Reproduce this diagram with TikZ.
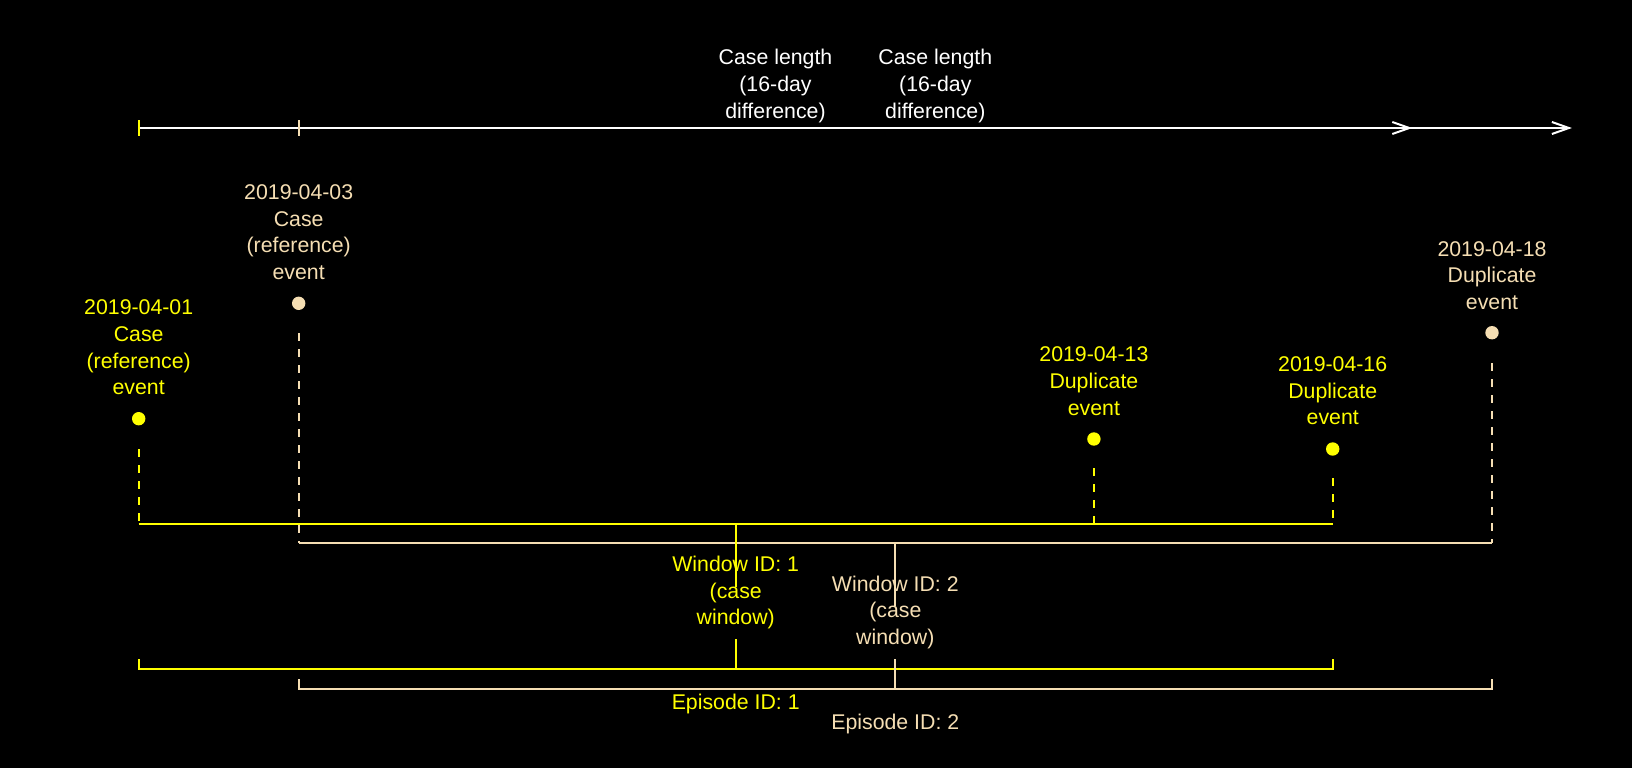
\documentclass[tikz,border=0pt]{standalone}
\usepackage{fontspec}
\setmainfont{Liberation Sans}
\usetikzlibrary{arrows.meta,calc}
\definecolor{ylw}{HTML}{FFFF00}
\definecolor{wht}{HTML}{F5DEB3}
\newcommand\ls{\rule[-5.65pt]{0pt}{26.7pt}}
\begin{document}
\begin{tikzpicture}[x=1pt,y=-1pt,
  lbl/.style={align=center,inner sep=0pt,font=\fontsize{21.3}{26.7}\selectfont},
  evdot/.style={circle,fill,inner sep=0pt,minimum size=13.4pt},
  ln/.style={line width=2pt},
  dsh/.style={line width=2pt,dash pattern=on 8pt off 8pt},
  arr/.style={line width=2pt,white,-{Straight Barb[length=17pt,width=12pt]}}]
\fill[black] (0,0) rectangle (1632,768);
\useasboundingbox (0,0) rectangle (1632,768);

% time axis
\coordinate (s1) at (138.7,128);
\coordinate (s3) at (298.7,128);
\coordinate (f17) at (1412.3,128);
\coordinate (f19) at (1571.9,128);
\draw[arr] (s1) -- (f17);
\draw[arr] (s3) -- (f19);
\draw[ln,ylw] ([yshift=8pt]s1) -- ([yshift=-8pt]s1);
\draw[ln,wht] ([yshift=8pt]s3) -- ([yshift=-8pt]s3);
\node[lbl,white] (cl1) at (775.5,83.6) {\ls Case length\\\ls (16-day\\\ls difference)};
\node[lbl,white] (cl2) at (935.3,83.6) {\ls Case length\\\ls (16-day\\\ls difference)};

% events
\node[lbl,ylw] (t1) at (138.7,347.2) {\ls 2019-04-01\\\ls Case\\\ls (reference)\\\ls event};
\node[evdot,ylw] (e1) at (138.7,418.7) {};
\node[lbl,wht] (t3) at (298.7,231.7) {\ls 2019-04-03\\\ls Case\\\ls (reference)\\\ls event};
\node[evdot,wht] (e3) at (298.7,303.3) {};
\node[lbl,ylw] (t13) at (1093.9,380.7) {\ls 2019-04-13\\\ls Duplicate\\\ls event};
\node[evdot,ylw] (e13) at (1093.9,439) {};
\node[lbl,ylw] (t16) at (1332.7,390.4) {\ls 2019-04-16\\\ls Duplicate\\\ls event};
\node[evdot,ylw] (e16) at (1332.7,449) {};
\node[lbl,wht] (t18) at (1492,275) {\ls 2019-04-18\\\ls Duplicate\\\ls event};
\node[evdot,wht] (e18) at (1492,332.7) {};

% window brackets
\coordinate (w1c) at (735.7,524);
\coordinate (w2c) at (895.3,543.3);
\draw[dsh,ylw] ([yshift=-30.6pt]e1.center) -- (e1.center |- w1c);
\draw[dsh,ylw] ([yshift=-29.3pt]e13.center) -- (e13.center |- w1c);
\draw[dsh,ylw] ([yshift=-29.3pt]e16.center) -- (e16.center |- w1c);
\draw[dsh,wht] ([yshift=-30pt]e3.center) -- (e3.center |- w2c);
\draw[dsh,wht] ([yshift=-30.6pt]e18.center) -- (e18.center |- w2c);
\draw[ln,ylw] (e1.center |- w1c) -- (e16.center |- w1c);
\draw[ln,wht] (e3.center |- w2c) -- (e18.center |- w2c);
\draw[ln,ylw] (w1c) -- ++(0,62.7);
\draw[ln,wht] (w2c) -- ++(0,62.7);
\node[lbl,ylw] (w1) at (735.7,590.4) {\ls Window ID: 1\\\ls (case\\\ls window)};
\node[lbl,wht] (w2) at (895.3,610) {\ls Window ID: 2\\\ls (case\\\ls window)};

% episode brackets
\coordinate (p1c) at (735.7,669);
\coordinate (p2c) at (895.3,689);
\draw[ln,ylw] ([yshift=10pt]e1.center |- p1c) -- (e1.center |- p1c) -- (e16.center |- p1c) -- ++(0,-10);
\draw[ln,wht] ([yshift=10pt]e3.center |- p2c) -- (e3.center |- p2c) -- (e18.center |- p2c) -- ++(0,-10);
\draw[ln,ylw] (p1c) -- ++(0,-29.7);
\draw[ln,wht] (p2c) -- ++(0,-29.7);
\node[lbl,ylw] (ep1) at (735.7,701.7) {\ls Episode ID: 1};
\node[lbl,wht] (ep2) at (895.3,721.7) {\ls Episode ID: 2};
\end{tikzpicture}
\end{document}
